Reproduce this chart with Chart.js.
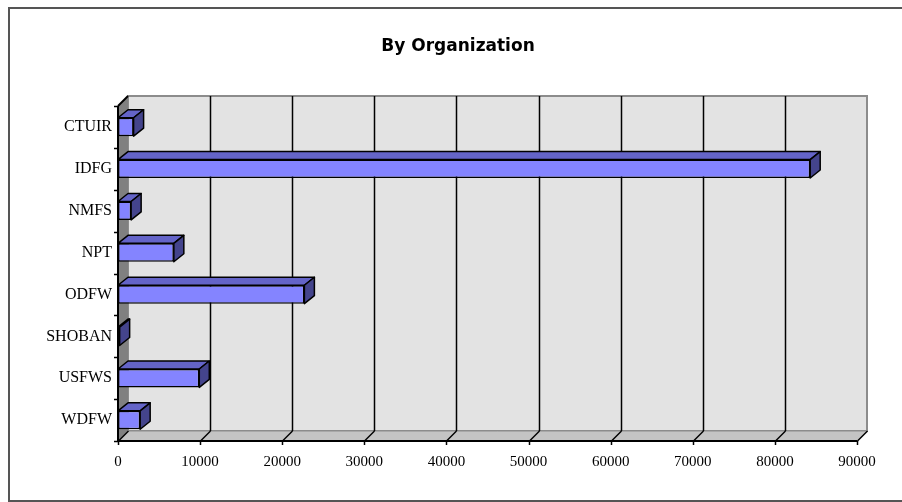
<!DOCTYPE html>
<html>
<head>
<meta charset="utf-8">
<script src="https://cdn.jsdelivr.net/npm/chart.js@4/dist/chart.umd.min.js"></script>
<style>
  html, body { margin: 0; padding: 0; background: #fff; }
  #wrap { width: 902px; height: 502px; position: relative; }
</style>
</head>
<body>
<div id="wrap"><canvas id="orgChart" width="902" height="502"></canvas></div>
<script>
const organizations = ['CTUIR', 'IDFG', 'NMFS', 'NPT', 'ODFW', 'SHOBAN', 'USFWS', 'WDFW'];
const counts = [1900, 84300, 1600, 6800, 22700, 200, 9900, 2700];
const xTicks = [0, 10000, 20000, 30000, 40000, 50000, 60000, 70000, 80000, 90000];

// depth of the fake 3D walls / bars
const WALL_D = 10;
const BAR_DX = 10, BAR_DY = 8;

const frame3d = {
    id: 'frame3d',
    beforeDraw(chart) {
        const c = chart.ctx;
        c.save();
        c.strokeStyle = '#555';
        c.lineWidth = 2;
        c.strokeRect(9, 8, 910, 493);
        c.fillStyle = '#000';
        c.font = 'bold 17px "DejaVu Sans"';
        c.textAlign = 'center';
        c.textBaseline = 'middle';
        c.fillText('By Organization', 458, 47);
        c.restore();
    },
    beforeDatasetsDraw(chart) {
        const c = chart.ctx;
        const a = chart.chartArea;
        const xs = chart.scales.x;
        const d = WALL_D;
        c.save();
        // back wall
        c.fillStyle = '#e3e3e3';
        c.fillRect(a.left + d, a.top - d, a.right - a.left, a.bottom - a.top);
        c.strokeStyle = '#8c8c8c';
        c.lineWidth = 2;
        c.strokeRect(a.left + d, a.top - d, a.right - a.left, a.bottom - a.top);
        // floor
        c.fillStyle = '#c4c4c4';
        c.beginPath();
        c.moveTo(a.left, a.bottom);
        c.lineTo(a.left + d, a.bottom - d);
        c.lineTo(a.right + d, a.bottom - d);
        c.lineTo(a.right, a.bottom);
        c.closePath();
        c.fill();
        c.strokeStyle = '#8c8c8c';
        c.lineWidth = 1;
        c.stroke();
        // side wall
        c.fillStyle = '#808080';
        c.beginPath();
        c.moveTo(a.left, a.top);
        c.lineTo(a.left + d, a.top - d);
        c.lineTo(a.left + d, a.bottom - d);
        c.lineTo(a.left, a.bottom);
        c.closePath();
        c.fill();
        // grid lines on back wall + diagonals on floor
        c.strokeStyle = '#000';
        c.lineWidth = 1.5;
        xTicks.forEach((v, i) => {
            const x = Math.round(xs.getPixelForValue(v)) + 0.5;
            if (i > 0 && i < xTicks.length - 1) {
                c.beginPath();
                c.moveTo(x + d, a.top - d);
                c.lineTo(x + d, a.bottom - d);
                c.stroke();
            }
            c.beginPath();
            c.moveTo(x, a.bottom);
            c.lineTo(x + d, a.bottom - d);
            c.stroke();
            c.beginPath();
            c.moveTo(x, a.bottom);
            c.lineTo(x, a.bottom + 4);
            c.stroke();
        });
        // front axis lines
        c.lineWidth = 2;
        c.beginPath();
        c.moveTo(a.left, a.top);
        c.lineTo(a.left, a.bottom);
        c.lineTo(a.right, a.bottom);
        c.stroke();
        c.beginPath();
        c.moveTo(a.left, a.top);
        c.lineTo(a.left + d, a.top - d);
        c.stroke();
        // category ticks on the left
        c.lineWidth = 1.5;
        for (let i = 0; i <= organizations.length; i++) {
            const y = Math.round(a.top + (a.bottom - a.top) * i / organizations.length) + 0.5;
            c.beginPath();
            c.moveTo(a.left - 4, y);
            c.lineTo(a.left, y);
            c.stroke();
        }
        c.restore();
    },
    afterDatasetsDraw(chart) {
        const c = chart.ctx;
        const meta = chart.getDatasetMeta(0);
        c.save();
        c.strokeStyle = '#000';
        c.lineWidth = 1.5;
        c.lineJoin = 'round';
        meta.data.forEach(bar => {
            const p = bar.getProps(['x', 'y', 'base', 'height'], true);
            const x0 = p.base, x1 = p.x;
            const yt = p.y - p.height / 2, yb = p.y + p.height / 2;
            // top face
            c.fillStyle = '#6464c8';
            c.beginPath();
            c.moveTo(x0, yt);
            c.lineTo(x0 + BAR_DX, yt - BAR_DY);
            c.lineTo(x1 + BAR_DX, yt - BAR_DY);
            c.lineTo(x1, yt);
            c.closePath();
            c.fill();
            c.stroke();
            // side face
            c.fillStyle = '#44448c';
            c.beginPath();
            c.moveTo(x1, yt);
            c.lineTo(x1 + BAR_DX, yt - BAR_DY);
            c.lineTo(x1 + BAR_DX, yb - BAR_DY);
            c.lineTo(x1, yb);
            c.closePath();
            c.fill();
            c.stroke();
        });
        c.restore();
    }
};

new Chart(document.getElementById('orgChart'), {
    type: 'bar',
    data: {
        labels: organizations,
        datasets: [{
            data: counts,
            backgroundColor: '#8484ff',
            borderColor: '#000',
            borderWidth: 1.5,
            borderSkipped: false,
            barPercentage: 0.44,
            categoryPercentage: 1
        }]
    },
    options: {
        indexAxis: 'y',
        responsive: false,
        animation: false,
        layout: { padding: { left: 0, right: 45, top: 106, bottom: 31 } },
        plugins: { legend: { display: false }, tooltip: { enabled: false } },
        scales: {
            x: {
                min: 0, max: 90000,
                afterBuildTicks: s => { s.ticks = xTicks.map(v => ({ value: v })); },
                afterFit: s => { s.height = 30; },
                grid: { display: false, drawTicks: false },
                border: { display: false },
                ticks: {
                    padding: 12,
                    color: '#000',
                    font: { family: '"Liberation Serif"', size: 15 },
                    maxRotation: 0,
                    autoSkip: false,
                    callback: v => String(v)
                }
            },
            y: {
                afterFit: s => { s.width = 118; },
                grid: { display: false, drawTicks: false },
                border: { display: false },
                ticks: {
                    padding: 6,
                    color: '#000',
                    font: { family: '"Liberation Serif"', size: 16 }
                }
            }
        }
    },
    plugins: [frame3d]
});
</script>
</body>
</html>
